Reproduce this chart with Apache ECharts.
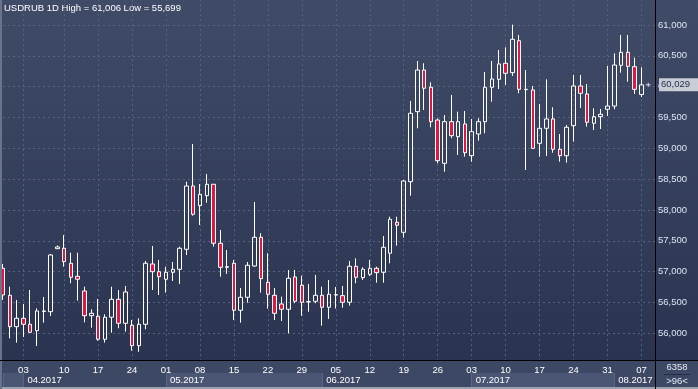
<!DOCTYPE html>
<html><head><meta charset="utf-8">
<script src="https://cdn.jsdelivr.net/npm/echarts@6/dist/echarts.min.js"></script>
<style>html,body{margin:0;padding:0;background:#2f3a56;overflow:hidden}#c{width:698px;height:389px}</style>
</head><body><div id="c"></div>
<script>
const dates = ['03-29','03-30','03-31','04-03','04-04','04-05','04-06','04-07','04-09',
'04-10','04-11','04-12','04-13','04-14','04-17','04-18','04-19','04-20','04-21',
'04-24','04-25','04-26','04-27','04-28','05-01','05-02','05-03','05-04','05-05',
'05-08','05-09','05-10','05-11','05-12','05-15','05-16','05-17','05-18','05-19',
'05-22','05-23','05-24','05-25','05-26','05-29','05-30','05-31','06-01','06-02',
'06-05','06-06','06-07','06-08','06-09','06-12','06-13','06-14','06-15','06-16',
'06-19','06-20','06-21','06-22','06-23','06-26','06-27','06-28','06-29','06-30',
'07-03','07-04','07-05','07-06','07-07','07-10','07-11','07-12','07-13','07-14',
'07-17','07-18','07-19','07-20','07-21','07-24','07-25','07-26','07-27','07-28',
'07-31','08-01','08-02','08-03','08-04','08-07'];
const padDates = ['08-08','08-09'];
const openV = [57054,56616,56107,56243,56146,56042,56354,56350,57372,57379,
57135,56924,56686,56285,56276,55903,56260,56551,56162,56130,
55799,56146,57124,56999,56876,56989,57038,57362,58389,58070,
58232,58417,57460,57080,57135,56373,56584,57091,57557,56827,
56616,56475,56389,56913,56779,56508,56519,56616,56422,56621,
56610,56503,57087,56902,56957,57054,56989,57298,57800,57638,
58459,59594,60270,59990,59459,58757,59432,59189,59395,58880,
59232,59432,59990,60119,60379,60227,60745,59957,59946,59081,
59325,59476,58984,58880,59367,60011,59881,59406,59513,59633,
59686,60346,60557,60324,59873];
const closeV = [56621,56107,56243,56146,56016,56362,56362,57270,57400,57161,
56908,56876,56285,56324,55903,56260,56551,56162,56670,55799,
56146,57135,56999,56918,56989,57038,57379,58389,57930,58254,
58417,57460,57070,57070,56373,56584,57103,57557,56886,56633,
56324,56389,56892,56519,56503,56513,56616,56422,56633,56626,
56503,57087,56908,57038,57054,56983,57395,57849,57752,58470,
59568,60270,59974,59432,58799,59432,59205,59432,58929,59270,
59432,59990,60124,60368,60217,60768,59957,59951,59000,59325,
59476,58984,58880,59341,60011,59892,59422,59513,59552,59686,
60351,60557,60330,59957,60029];
const lowV = [56540,55919,55848,55940,56005,55794,56172,56281,57367,57080,
56811,56529,56178,56091,55880,55848,56010,56081,56026,55718,
55699,56065,56702,56621,56659,56848,56800,57270,57907,57756,
58118,57405,56918,56962,56216,56172,56496,57080,56659,56399,
56216,56200,56000,56487,56285,56350,56487,56123,56232,56402,
56415,56448,56811,56865,56929,56821,56821,57135,57421,57551,
58232,59325,59622,59341,58757,58621,59163,58892,58864,58783,
59124,59244,59756,59962,60027,60173,59892,58648,58989,58864,
58875,58929,58783,58767,59107,59654,59351,59297,59313,59524,
59633,60227,60080,59881,59832];
const highV = [57124,56756,56540,56475,56702,56405,56589,57286,57424,57594,
57307,57307,56756,56389,56556,56308,56756,56702,56767,56216,
56243,57173,57416,57189,57080,57156,57405,58459,59070,58421,
58584,58421,57675,57351,57189,56735,57156,58130,57622,57298,
56735,56594,57027,57027,56934,56800,56946,56756,56865,56751,
56767,57173,57216,57070,57189,57080,57578,57891,57891,58486,
59768,60416,60379,60071,59487,59540,59865,59594,59605,59476,
59487,60238,60416,60595,60638,61006,60838,60270,60011,59719,
60119,59665,59232,59378,60189,60189,60043,59649,59638,60335,
60541,60838,60838,60470,60314];
const weekTicks = ['04-03','04-10','04-17','04-24','05-01','05-08','05-15','05-22','05-29','06-05',
'06-12','06-19','06-26','07-03','07-10','07-17','07-24','07-31','08-07'];
const monthTicks = ['03-29','04-03','05-01','06-01','07-03','08-01'];
const monthLabels = ['','04.2017','05.2017','06.2017','07.2017','08.2017'];
const yTickStep = 500;

const fmt = n => String(n).replace(/\B(?=(\d{3})+(?!\d))/g, ',');
const allDates = dates.concat(padDates);
const ohlc = dates.map((d, i) => [openV[i], closeV[i], lowV[i], highV[i]]);
const lastPrice = closeV[closeV.length - 1];
const FONT = 'Liberation Sans';
const FS = 9.5;
const isWeek = (i, v) => weekTicks.indexOf(v) >= 0;
const isMonth = (i, v) => monthTicks.indexOf(v) >= 0;
const dash = { color: '#56627f', width: 1, type: [2, 3] };

const chart = echarts.init(document.getElementById('c'), null, { renderer: 'canvas' });
chart.setOption({
  animation: false,
  backgroundColor: { type: 'linear', x: 0, y: 0, x2: 0, y2: 1,
    colorStops: [{ offset: 0, color: '#404b67' }, { offset: 0.93, color: '#2a3451' }, { offset: 1, color: '#2a3451' }] },
  title: {
    text: 'USDRUB 1D High = ' + fmt(Math.max(...highV)) + ' Low = ' + fmt(Math.min(...lowV)),
    left: 4, top: 3, padding: 0,
    textStyle: { color: '#ffffff', fontSize: FS, fontWeight: 'normal', fontFamily: FONT }
  },
  grid: [
    { left: 3, right: 43, top: -5.83, bottom: 24.9, outerBoundsMode: 'none', containLabel: false },
    { left: 3, right: 43, top: 373, height: 14, outerBoundsMode: 'none', containLabel: false }
  ],
  xAxis: [
    { gridIndex: 0, type: 'category', data: allDates, boundaryGap: false, offset: -3.1, z: 6,
      axisLine: { show: false }, axisTick: { show: false }, splitLine: { show: false },
      axisLabel: { interval: isWeek, formatter: v => v.slice(3), color: '#ffffff', fontSize: FS,
        fontFamily: FONT, margin: 4 } },
    { gridIndex: 0, type: 'category', data: allDates, boundaryGap: false,
      axisLine: { show: false }, axisTick: { show: false }, axisLabel: { show: false },
      splitLine: { show: true, interval: isWeek, lineStyle: dash } },
    { gridIndex: 1, type: 'category', data: allDates, boundaryGap: false, position: 'top', z: 6,
      axisLine: { show: false }, axisTick: { show: false },
      axisLabel: { inside: true, interval: isMonth, formatter: v => monthLabels[monthTicks.indexOf(v)] || '',
        align: 'left', padding: [0, 0, 0, 4], margin: 2, color: '#ffffff', fontSize: FS, fontFamily: FONT },
      splitArea: { show: true, interval: isMonth, areaStyle: { color: ['#4a5673', 'rgba(0,0,0,0)'] } },
      splitLine: { show: true, interval: isMonth, lineStyle: { color: '#5a6683', width: 1 } } }
  ],
  yAxis: [
    { gridIndex: 0, type: 'value', position: 'right', min: 55500, max: 61500, interval: yTickStep,
      axisLine: { show: false }, axisTick: { show: false },
      axisLabel: { color: '#dce4f3', fontSize: FS, fontFamily: FONT, margin: 3, formatter: v => fmt(v),
        showMinLabel: false, showMaxLabel: false },
      splitLine: { show: true, lineStyle: dash } },
    { gridIndex: 1, type: 'value', show: false }
  ],
  series: [{
    type: 'candlestick', xAxisIndex: 0, yAxisIndex: 0, data: ohlc, barWidth: 4, clip: true,
    itemStyle: { color: 'rgba(0,0,0,0)', color0: '#e2163e', borderColor: '#ffffff', borderColor0: '#ffffff',
      borderColorDoji: '#ffffff', borderWidth: 1 },
    markLine: { silent: true, symbol: ['none', 'none'], animation: false,
      lineStyle: { color: 'rgba(0,0,0,0)', width: 0 },
      label: { show: true, position: 'end', distance: 4, formatter: fmt(lastPrice), color: '#1f2b47',
        backgroundColor: '#c8cdd6', padding: [2, 8, 1, 2], fontSize: FS, fontFamily: FONT },
      data: [{ yAxis: lastPrice }] },
    markPoint: { silent: true, animation: false,
      symbol: 'path://M0,3 L10,3 L10,4.6 L0,4.6 Z M4.2,0 L5.8,0 L5.8,7.6 L4.2,7.6 Z',
      symbolSize: [5, 4], itemStyle: { color: '#ffffff' }, label: { show: false },
      data: [{ coord: [padDates[0], lastPrice] }] }
  }],
  graphic: [
    { type: 'rect', z: 2, shape: { x: 0, y: 361, width: 698, height: 28 }, style: { fill: '#3d4864' } },
    { type: 'rect', z: 8, shape: { x: 0, y: 387, width: 698, height: 2 }, style: { fill: '#9aa1b0' } },
    { type: 'rect', z: 8, shape: { x: 0, y: 0, width: 2, height: 389 }, style: { fill: '#68738d' } },
    { type: 'line', z: 8, shape: { x1: 0, y1: 360.5, x2: 698, y2: 360.5 }, style: { stroke: '#000000', lineWidth: 1 } },
    { type: 'line', z: 8, shape: { x1: 655.5, y1: 0, x2: 655.5, y2: 389 }, style: { stroke: '#000000', lineWidth: 1 } },
    { type: 'text', z: 8, x: 677, y: 367, style: { text: '6358', fill: '#e3e9f4', font: '9.5px "Liberation Sans"', textAlign: 'center', textVerticalAlign: 'middle' } },
    { type: 'line', z: 8, shape: { x1: 664, y1: 374.5, x2: 690, y2: 374.5 }, style: { stroke: '#222b44', lineWidth: 1 } },
    { type: 'text', z: 8, x: 677, y: 381, style: { text: '>96<', fill: '#e3e9f4', font: '9.5px "Liberation Sans"', textAlign: 'center', textVerticalAlign: 'middle' } }
  ]
});
</script>
</body></html>
